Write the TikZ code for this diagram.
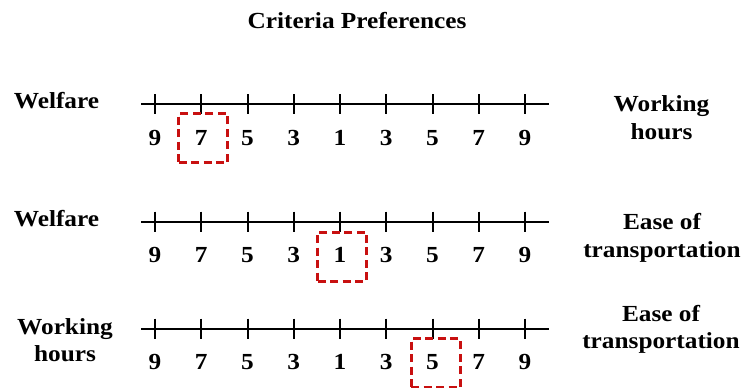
\documentclass[tikz,border=0pt]{standalone}
\usepackage{fontspec}
\setmainfont{Liberation Serif}[FakeStretch=1.1]
\definecolor{selred}{RGB}{200,16,16}
\begin{document}
\begin{tikzpicture}[x=1pt,y=-1pt,
  txt/.style={font=\fontsize{23}{27.5}\selectfont\bfseries, inner sep=0pt, align=center},
  axisline/.style={line width=2pt},
  tickmark/.style={line width=2pt},
  selbox/.style={draw=selred, line width=3pt, dash pattern=on 8pt off 4.5pt,
    minimum width=49pt, minimum height=49pt, inner sep=0pt}]
\useasboundingbox (0,0) rectangle (742,388);
\node[txt, anchor=base] (title) at (357,28) {Criteria Preferences};
\foreach \r/\y/\b in {1/104/145, 2/221.5/262.5, 3/328.5/369} {
  \coordinate (s\r) at (141,\y);
  \coordinate (e\r) at (549,\y);
  \draw[axisline] (s\r) -- (e\r);
  \foreach \v [count=\i from 0] in {9,7,5,3,1,3,5,7,9} {
    \pgfmathsetmacro\xx{155+46.25*\i}
    \coordinate (t\r-\i) at (\xx,\y);
    \draw[tickmark] ([yshift=10pt]t\r-\i) -- ([yshift=-10pt]t\r-\i);
    \node[txt, anchor=base] (n\r-\i) at (\xx,\b) {\v};
  }
}
\node[selbox] (sel1) at (203,138) {};
\node[selbox] (sel2) at (342,256.5) {};
\node[selbox] (sel3) at (435.5,363) {};
\node[txt, anchor=base] (l1) at (56.5,108.5) {Welfare};
\node[txt, anchor=base] (l2) at (56.5,226) {Welfare};
\node[txt, anchor=base] (l3) at (65,361.5) {Working\\hours};
\node[txt, anchor=base] (r1) at (661.5,139.3) {Working\\hours};
\node[txt, anchor=base] (r2) at (662,257) {Ease of\\transportation};
\node[txt, anchor=base] (r3) at (661,348.5) {Ease of\\transportation};
\end{tikzpicture}
\end{document}
